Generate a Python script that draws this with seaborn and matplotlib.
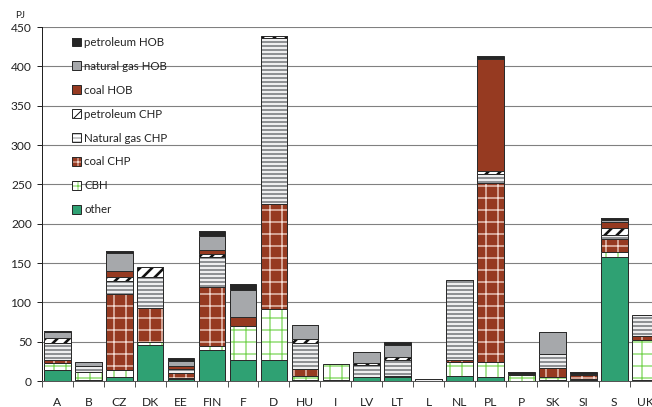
import numpy as np
import pandas as pd
import matplotlib
matplotlib.use("Agg")
import matplotlib.pyplot as plt
import seaborn as sns
from matplotlib.patches import Patch
from matplotlib.legend_handler import HandlerTuple

# Heat supply by source and country, PJ
countries = ["A", "B", "CZ", "DK", "EE", "FIN", "F", "D", "HU", "I",
             "LV", "LT", "L", "NL", "PL", "P", "SK", "SI", "S", "UK"]

other           = [14.0, 1.5, 5.5, 45.7, 2.5, 39.4, 26.7, 26.7, 1.7, 1.5,
                   5.0, 4.5, 0.5, 6.0, 5.5, 0.5, 1.7, 1.0, 158.0, 1.0]
cbh             = [9.3, 9.7, 8.5, 4.3, 1.7, 5.0, 43.6, 64.8, 4.6, 20.0,
                   0.0, 0.0, 0.0, 18.0, 18.2, 7.0, 3.4, 1.0, 6.0, 50.8]
coal_chp        = [3.4, 0.0, 96.0, 43.0, 6.4, 75.4, 0.0, 133.5, 9.3, 0.0,
                   0.0, 1.7, 0.0, 3.0, 227.4, 0.0, 11.4, 5.5, 16.0, 5.5]
natgas_chp      = [21.6, 8.5, 17.4, 38.7, 5.0, 38.0, 0.0, 210.5, 32.5, 0.0,
                   15.7, 20.3, 2.0, 101.0, 11.9, 2.0, 18.3, 2.0, 5.0, 27.2]
petroleum_chp   = [6.7, 0.0, 4.4, 13.0, 0.0, 3.4, 0.0, 2.5, 5.5, 0.0,
                   2.5, 3.4, 0.0, 0.0, 4.2, 0.0, 0.0, 0.0, 9.0, 0.0]
coal_hob        = [0.0, 0.0, 8.0, 0.0, 3.4, 5.0, 11.4, 0.0, 0.0, 0.0,
                   0.0, 0.0, 0.0, 0.0, 142.3, 0.0, 0.0, 0.0, 8.0, 0.0]
natgas_hob      = [7.2, 4.2, 23.2, 0.0, 6.7, 17.8, 33.9, 0.0, 17.8, 0.0,
                   13.5, 15.7, 0.0, 0.0, 0.0, 0.0, 27.5, 0.0, 3.0, 0.0]
petroleum_hob   = [1.0, 0.8, 2.0, 0.5, 3.0, 6.8, 7.2, 0.0, 0.0, 0.0,
                   0.0, 4.2, 0.0, 0.0, 3.4, 1.5, 0.0, 1.5, 2.0, 0.0]

source_names = ["other", "CBH", "coal CHP", "Natural gas CHP", "petroleum CHP",
                "coal HOB", "natural gas HOB", "petroleum HOB"]
source_values = [other, cbh, coal_chp, natgas_chp, petroleum_chp,
                 coal_hob, natgas_hob, petroleum_hob]

# face colour, hatch colour, hatch pattern, hatch line width
styles = {
    "other":           ("#2fa173", "#2fa173", "", 1.0),
    "CBH":             ("#ffffff", "#7fd65c", "+", 1.3),
    "coal CHP":        ("#963a21", "#f3d9d0", "+", 1.3),
    "Natural gas CHP": ("#ffffff", "#8f9194", "---", 2.3),
    "petroleum CHP":   ("#ffffff", "#111111", "//", 2.6),
    "coal HOB":        ("#963a21", "#963a21", "", 1.0),
    "natural gas HOB": ("#a6a8ab", "#a6a8ab", "", 1.0),
    "petroleum HOB":   ("#262626", "#262626", "", 1.0),
}
EDGE = "#2b2b2b"

sns.set_theme(style="white")
plt.rcParams["font.family"] = ["Lato", "DejaVu Sans"]

DPI = 72
W, H = 652, 407
fig = plt.figure(figsize=(W / DPI, H / DPI), dpi=DPI)
ax = fig.add_axes([41.9 / W, 1 - 381 / H, 618.8 / W, 354 / H])

stack = np.array(source_values)
cum = np.cumsum(stack, axis=0)

# Stacked bars: draw cumulative totals from the top layer down
for i in reversed(range(len(source_names))):
    name = source_names[i]
    face, hcol, hatch, hlw = styles[name]
    d = pd.DataFrame({"country": countries, "total": cum[i]})
    n0 = len(ax.patches)
    with plt.rc_context({"hatch.linewidth": hlw}):
        sns.barplot(data=d, x="country", y="total", order=countries,
                    color=face, saturation=1, width=0.86, errorbar=None,
                    ax=ax)
        for p in ax.patches[n0:]:
            p.set_facecolor(face)
            p.set_edgecolor(hcol)
            p.set_linewidth(0)
            if hatch:
                p.set_hatch(hatch)
            if hasattr(p, "set_hatchcolor"):
                p.set_hatchcolor(hcol)
            if hasattr(p, "set_hatch_linewidth"):
                p.set_hatch_linewidth(hlw)
    n1 = len(ax.patches)
    sns.barplot(data=d, x="country", y="total", order=countries,
                color=EDGE, saturation=1, width=0.86, errorbar=None, ax=ax)
    for p in ax.patches[n1:]:
        p.set_facecolor("none")
        p.set_edgecolor(EDGE)
        p.set_linewidth(1.0)

ax.set_xlabel("")
ax.set_ylabel("")
ax.set_xlim(-0.5, len(countries) - 0.5)
ax.set_ylim(0, 450)

# y axis
ax.set_yticks(np.arange(0, 451, 50))
ax.set_yticklabels([str(v) for v in range(0, 451, 50)])
ax.yaxis.grid(True, color="#808080", linewidth=1.1)
ax.set_axisbelow(True)

# x axis: tick marks between categories, labels at centres
ax.set_xticks(np.arange(-0.5, len(countries), 1.0))
ax.set_xticklabels([""] * (len(countries) + 1))
ax.set_xticks(np.arange(len(countries)), minor=True)
ax.set_xticklabels(countries, minor=True)
ax.tick_params(axis="x", which="major", bottom=True, length=6, width=1,
               color="#555555", direction="out")
ax.tick_params(axis="x", which="minor", bottom=True, length=0, pad=16,
               labelsize=12, labelcolor="#222222")
ax.tick_params(axis="y", left=True, length=5, width=1, color="#222222",
               direction="out", pad=5, labelsize=12, labelcolor="#222222")

for s in ["top", "right"]:
    ax.spines[s].set_visible(False)
ax.spines["left"].set_color("#222222")
ax.spines["left"].set_linewidth(1.0)
ax.spines["bottom"].set_color("#555555")
ax.spines["bottom"].set_linewidth(1.0)

fig.text(20 / W, 1 - 16 / H, "PJ", ha="center", va="center",
         fontsize=10, color="#222222")

# Legend, top entry first; each key is a hatched fill with a dark outline on top
handles, labels = [], []
for name in reversed(source_names):
    face, hcol, hatch, hlw = styles[name]
    fill = Patch(facecolor=face, edgecolor=hcol, linewidth=0, hatch=hatch or None)
    if hasattr(fill, "set_hatchcolor"):
        fill.set_hatchcolor(hcol)
    if hasattr(fill, "set_hatch_linewidth"):
        fill.set_hatch_linewidth(hlw)
    outline = Patch(facecolor="none", edgecolor=EDGE, linewidth=1.0)
    handles.append((fill, outline))
    labels.append(name)

leg = ax.legend(handles, labels, handler_map={tuple: HandlerTuple(ndivide=1, pad=0)},
                loc="upper left", bbox_to_anchor=(71.7 / W, 1 - 37.0 / H),
                bbox_transform=fig.transFigure, frameon=False, fontsize=11.5,
                handlelength=0.8, handleheight=0.8, handletextpad=0.3,
                labelspacing=1.12, borderpad=0, borderaxespad=0)
for t in leg.get_texts():
    t.set_color("#222222")

fig.savefig("out.png", dpi=DPI)
